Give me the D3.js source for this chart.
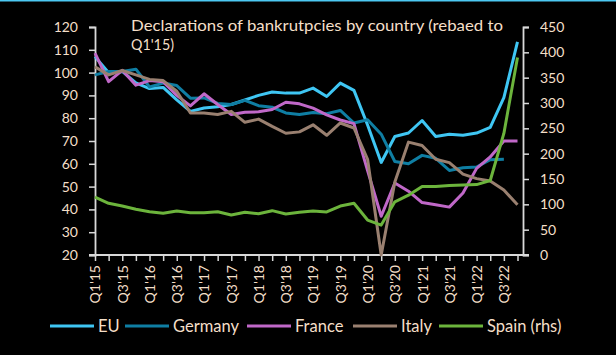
<!DOCTYPE html>
<html>
<head>
<meta charset="utf-8">
<script src="https://cdn.jsdelivr.net/npm/d3@7"></script>
<style>
  html, body { margin: 0; padding: 0; background: #000; }
  svg { display: block; }
  text { font-family: Lato, "Open Sans", sans-serif; fill: #f4dfc8; }
</style>
</head>
<body>
<svg id="chart" width="616" height="355"></svg>
<script>
const quarters = ["Q1'15","Q2'15","Q3'15","Q4'15","Q1'16","Q2'16","Q3'16","Q4'16",
  "Q1'17","Q2'17","Q3'17","Q4'17","Q1'18","Q2'18","Q3'18","Q4'18",
  "Q1'19","Q2'19","Q3'19","Q4'19","Q1'20","Q2'20","Q3'20","Q4'20",
  "Q1'21","Q2'21","Q3'21","Q4'21","Q1'22","Q2'22","Q3'22","Q4'22"];

const eu      = [107, 100, 100.5, 95.5, 93, 93.5, 88, 83, 84.5, 85, 86, 88, 90, 91.5, 91, 91,
                 93.2, 89.5, 95.4, 92.2, 77, 60.6, 72, 73.5, 79, 72, 73, 72.5, 73.5, 76, 89, 113.5];
const germany = [99, 100.5, 100.5, 101.5, 93.7, 95.4, 94.3, 88.8, 88.9, 86.5, 86, 87.8, 85.5, 84.8, 82.3, 81.6,
                 82.5, 82, 83.4, 77.9, 79.3, 73, 61, 60, 63.7, 62.4, 57.1, 58.3, 58.6, 61.8, 62];
const france  = [108.5, 96, 101, 94.5, 96.5, 96, 90, 85.4, 90.7, 86, 81.6, 82.6, 82.8, 83.8, 87, 86.3,
                 84.4, 81.5, 79.2, 77.6, 57, 37, 51.6, 48, 43, 42, 41, 47.2, 58, 63, 70, 70];
const italy   = [102.5, 99, 100.9, 99, 97, 96.5, 91.8, 82.3, 82.3, 81.6, 83, 78.2, 79.6, 76.4, 73.4, 74,
                 77.1, 72.5, 77.9, 75.7, 62, 20, 52, 69.5, 68, 62, 60.5, 55.5, 53.5, 52.5, 48.5, 42];
const spain   = [114, 102, 96.7, 90.2, 85.5, 82.2, 86.8, 83.5, 83.5, 85.5, 79, 84.2, 81.5, 87.5, 80.9, 84.2,
                 86.8, 84.9, 96.7, 102, 69, 59, 105, 118, 135, 135, 137, 138, 139, 147, 240, 390];

const leftTicks  = [20, 30, 40, 50, 60, 70, 80, 90, 100, 110, 120];
const rightTicks = [0, 50, 100, 150, 200, 250, 300, 350, 400, 450];
const seriesNames = ["EU", "Germany", "France", "Italy", "Spain (rhs)"];
const colors = ["#3fc6f3", "#0f7ea3", "#c068c8", "#9a8070", "#6cb43c"];
const titleLines = ["Declarations of bankrutpcies by country (rebaed to", "Q1'15)"];

const series = [
  {name: seriesNames[0], values: eu, axis: "left"},
  {name: seriesNames[1], values: germany, axis: "left"},
  {name: seriesNames[2], values: france, axis: "left"},
  {name: seriesNames[3], values: italy, axis: "left"},
  {name: seriesNames[4], values: spain, axis: "right"}
];

const svg = d3.select("#chart");
svg.append("rect").attr("width", 616).attr("height", 355).attr("fill", "#000");
svg.append("rect").attr("x", 0).attr("y", 0).attr("width", 616).attr("height", 1.5).attr("fill", "#4cc8f2");

const x = d3.scalePoint().domain(quarters).range([95, 517.5]);
const yL = d3.scaleLinear().domain([20, 120]).range([255, 27]);
const yR = d3.scaleLinear().domain([0, 450]).range([255, 27]);
const axisColor = "#d9d9d9";

// left axis
const gL = svg.append("g").attr("transform", "translate(95,0)")
  .call(d3.axisLeft(yL).tickValues(leftTicks).tickSize(6).tickPadding(11));
// right axis
const gR = svg.append("g").attr("transform", "translate(523,0)")
  .call(d3.axisRight(yR).tickValues(rightTicks).tickSize(6).tickPadding(11));
// x axis
const gX = svg.append("g").attr("transform", "translate(0,255)")
  .call(d3.axisBottom(x).tickSize(6).tickSizeOuter(0)
    .tickFormat((d, i) => (i % 2 === 0 ? d : "")));
gX.select(".domain").attr("d", "M89,0H529");
gX.selectAll(".tick text")
  .attr("transform", "rotate(-90)")
  .attr("text-anchor", "end")
  .attr("x", -10).attr("y", 0).attr("dy", "0.35em")
  .style("font-size", "14px");

[gL, gR, gX].forEach(g => {
  g.selectAll(".domain").attr("stroke", axisColor).attr("stroke-width", 1.8);
  g.selectAll(".tick line").attr("stroke", axisColor).attr("stroke-width", 1.5);
  g.selectAll(".tick text").attr("fill", "#f4dfc8").style("font-family", "Lato, sans-serif");
});
gL.selectAll(".tick text").style("font-size", "14px");
gR.selectAll(".tick text").style("font-size", "14px");

// lines
series.forEach((s, k) => {
  const yS = s.axis === "left" ? yL : yR;
  const line = d3.line().x((d, i) => x(quarters[i])).y(d => yS(d));
  svg.append("path").datum(s.values)
    .attr("d", line)
    .attr("fill", "none")
    .attr("stroke", colors[k])
    .attr("stroke-width", 3)
    .attr("stroke-linejoin", "round");
});

// title
svg.append("text").attr("x", 131).attr("y", 31).style("font-size", "16px")
  .attr("textLength", 372).attr("lengthAdjust", "spacingAndGlyphs").text(titleLines[0]);
svg.append("text").attr("x", 131).attr("y", 50).style("font-size", "16px")
  .attr("textLength", 43).attr("lengthAdjust", "spacingAndGlyphs").text(titleLines[1]);

// legend
const legendX = [50, 125, 247, 353, 439];
const lg = svg.append("g");
seriesNames.forEach((n, k) => {
  lg.append("line").attr("x1", legendX[k]).attr("x2", legendX[k] + 44)
    .attr("y1", 326).attr("y2", 326).attr("stroke", colors[k]).attr("stroke-width", 3);
  lg.append("text").attr("x", legendX[k] + 48).attr("y", 331.5)
    .style("font-size", "16.5px").text(n);
});
</script>
</body>
</html>
